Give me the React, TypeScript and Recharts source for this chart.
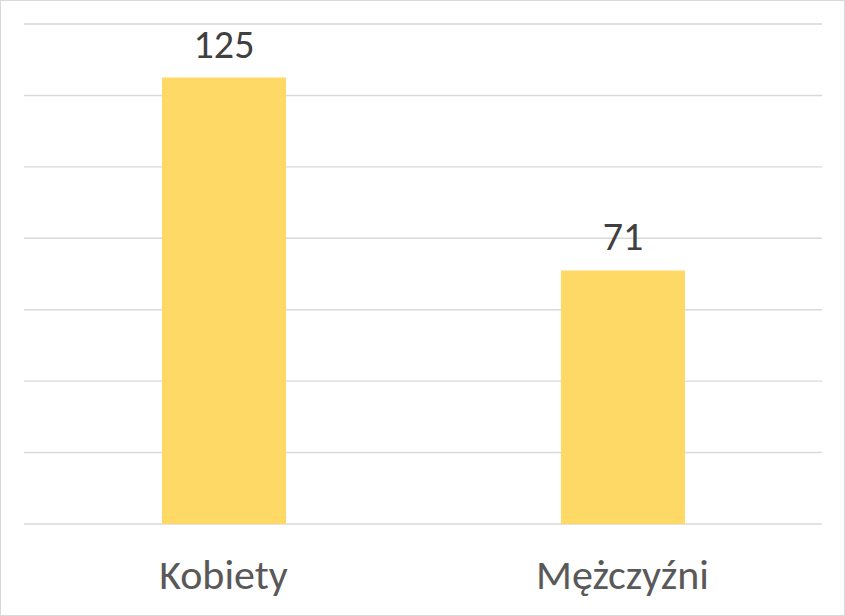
import React from "react";
import { BarChart, Bar, XAxis, YAxis, CartesianGrid, LabelList } from "recharts";

const categories = ["Kobiety", "Mężczyźni"];
const values = [125, 71];
const yTicks = [0, 20, 40, 60, 80, 100, 120, 140];

const data = categories.map((c, i) => ({ name: c, value: values[i] }));

const FONT = "Calibri, Carlito, Lato, 'Open Sans', sans-serif";

export default function App() {
  return (
    <div
      style={{
        position: "absolute",
        left: 0,
        top: 0,
        width: 845,
        height: 616,
        boxSizing: "border-box",
        border: "1.5px solid #d9d9d9",
        background: "#fff",
      }}
    >
      <div style={{ position: "absolute", left: -1.5, top: -1.5 }}>
        <BarChart
          width={845}
          height={616}
          data={data}
          margin={{ top: 24, right: 23, bottom: 62, left: 24 }}
        >
          <CartesianGrid vertical={false} stroke="#d9d9d9" strokeWidth={1.4} />
          <YAxis hide domain={[0, 140]} ticks={yTicks} />
          <XAxis
            dataKey="name"
            axisLine={false}
            tickLine={false}
            tick={{ fill: "#595959", fontSize: 42, fontFamily: FONT }}
            dy={27}
          />
          <Bar dataKey="value" fill="#FFD966" barSize={124} isAnimationActive={false}>
            <LabelList
              dataKey="value"
              position="top"
              offset={20}
              fill="#404040"
              fontSize={40}
              fontFamily={FONT}
            />
          </Bar>
        </BarChart>
      </div>
    </div>
  );
}
